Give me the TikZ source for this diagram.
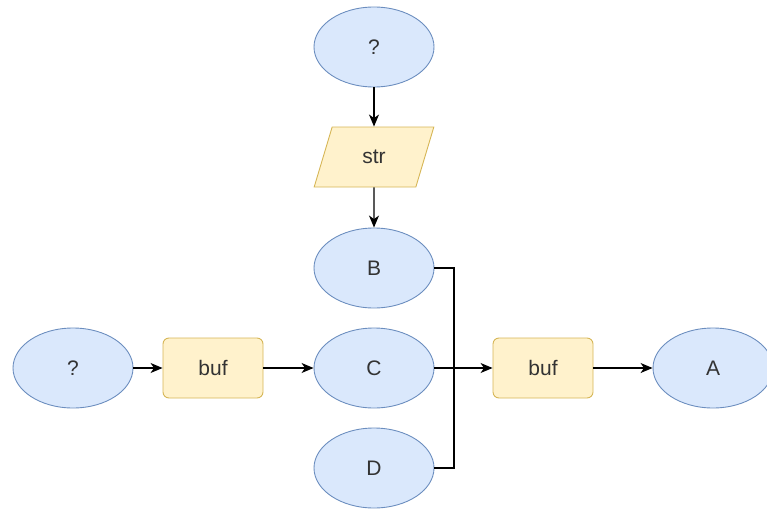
\documentclass[tikz,border=0pt]{standalone}
\usepackage{fontspec}
\setmainfont{Liberation Sans}
\usetikzlibrary{shapes.geometric,arrows.meta}
\definecolor{ellfill}{HTML}{DAE8FC}
\definecolor{elldraw}{HTML}{6C8EBF}
\definecolor{boxfill}{HTML}{FFF2CC}
\definecolor{boxdraw}{HTML}{D6B656}
\definecolor{txt}{HTML}{333333}
\tikzset{
  lbl/.style={text=txt, font=\fontsize{21}{24}\selectfont},
  ell/.style={ellipse, fill=ellfill, draw=elldraw, line width=0.9pt, minimum width=120pt, minimum height=80pt, inner sep=0pt, lbl},
  bufbox/.style={rectangle, rounded corners=6pt, fill=boxfill, draw=boxdraw, line width=0.9pt, minimum width=100pt, minimum height=60pt, inner sep=0pt, lbl},
  para/.style={trapezium, trapezium left angle=70, trapezium right angle=110, trapezium stretches=true, fill=boxfill, draw=boxdraw, line width=0.9pt, minimum width=120pt, minimum height=60pt, inner sep=0pt, lbl},
  conn/.style={line width=1.3pt, black},
  arr/.style={conn, -{Stealth[length=12pt,width=10pt,inset=3.5pt]}}
}
\begin{document}
\begin{tikzpicture}[x=1pt,y=-1pt]
\useasboundingbox (0,0) rectangle (767,508);
\node[ell] (top) at (374,47) {?};
\node[para] (str) at (374,157) {str};
\node[ell] (B) at (374,268) {B};
\node[ell] (C) at (374,368) {C};
\node[ell] (D) at (374,468) {D};
\node[ell] (left) at (73,368) {?};
\node[bufbox] (buf1) at (213,368) {buf};
\node[bufbox] (buf2) at (543,368) {buf};
\node[ell] (A) at (713,368) {A};
\coordinate (j) at (454,368);
\draw[arr] (top) -- (str);
\draw[arr] (str) -- (B);
\draw[arr] (left) -- (buf1);
\draw[arr] (buf1) -- (C);
\draw[arr] (C.east) -- (buf2.west);
\draw[conn] (B.east) -| (j);
\draw[conn] (D.east) -| (j);
\draw[arr] (buf2) -- (A);
\end{tikzpicture}
\end{document}
